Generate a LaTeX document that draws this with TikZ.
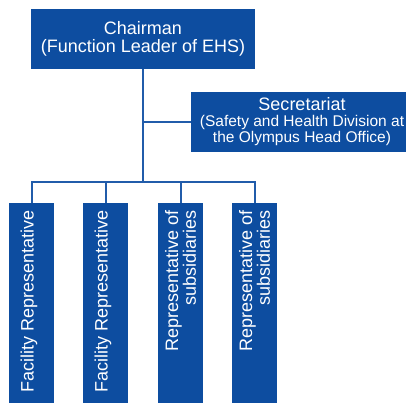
\documentclass[tikz,border=0pt]{standalone}
\usepackage{fontspec}
\setmainfont{Liberation Sans}
\usepackage{xcolor}
\usetikzlibrary{positioning}

\definecolor{ehsblue}{RGB}{13,77,160}
\definecolor{ehsline}{RGB}{33,92,170}

\begin{document}
\begin{tikzpicture}[x=1pt,y=-1pt,
	box/.style={fill=ehsblue,text=white,inner sep=0pt,align=center},
	rep/.style={box,rotate=90,minimum width=200pt,minimum height=45pt,
		text width=186pt,align=flush right,font=\fontsize{18}{15.5}\selectfont},
	link/.style={draw=ehsline,line width=2pt}]
	\useasboundingbox (0,0) rectangle (406,403);

	% top of the committee
	\node[box,minimum width=224pt,minimum height=60pt,
		font=\fontsize{18}{18.4}\selectfont] (C) at (143,39)
		{Chairman\\(Function Leader of EHS)};
	\node[box,minimum width=222pt,minimum height=60pt,
		font=\fontsize{15.5}{16}\selectfont] (S) at (302,122)
		{{\fontsize{18}{16}\selectfont Secretariat}\\(Safety and Health Division at\\the Olympus Head Office)};

	% members, turned on their side
	\node[rep,text depth=9pt] (F1) at (31.5,303) {Facility Representative};
	\node[rep,text depth=9pt] (F2) at (105.5,303) {Facility Representative};
	\node[rep] (R1) at (180.5,303) {Representative of\\subsidiaries};
	\node[rep] (R2) at (254.5,303) {Representative of\\subsidiaries};

	\coordinate (bus) at (143,182);

	\draw[link] (C.south) -- (bus);
	\draw[link] (C.south |- S.west) -- (S.west);
	\draw[link] (F1.east) |- (bus) -| (R2.east);
	\draw[link] (F2.east |- bus) -- (F2.east);
	\draw[link] (R1.east |- bus) -- (R1.east);
\end{tikzpicture}
\end{document}
